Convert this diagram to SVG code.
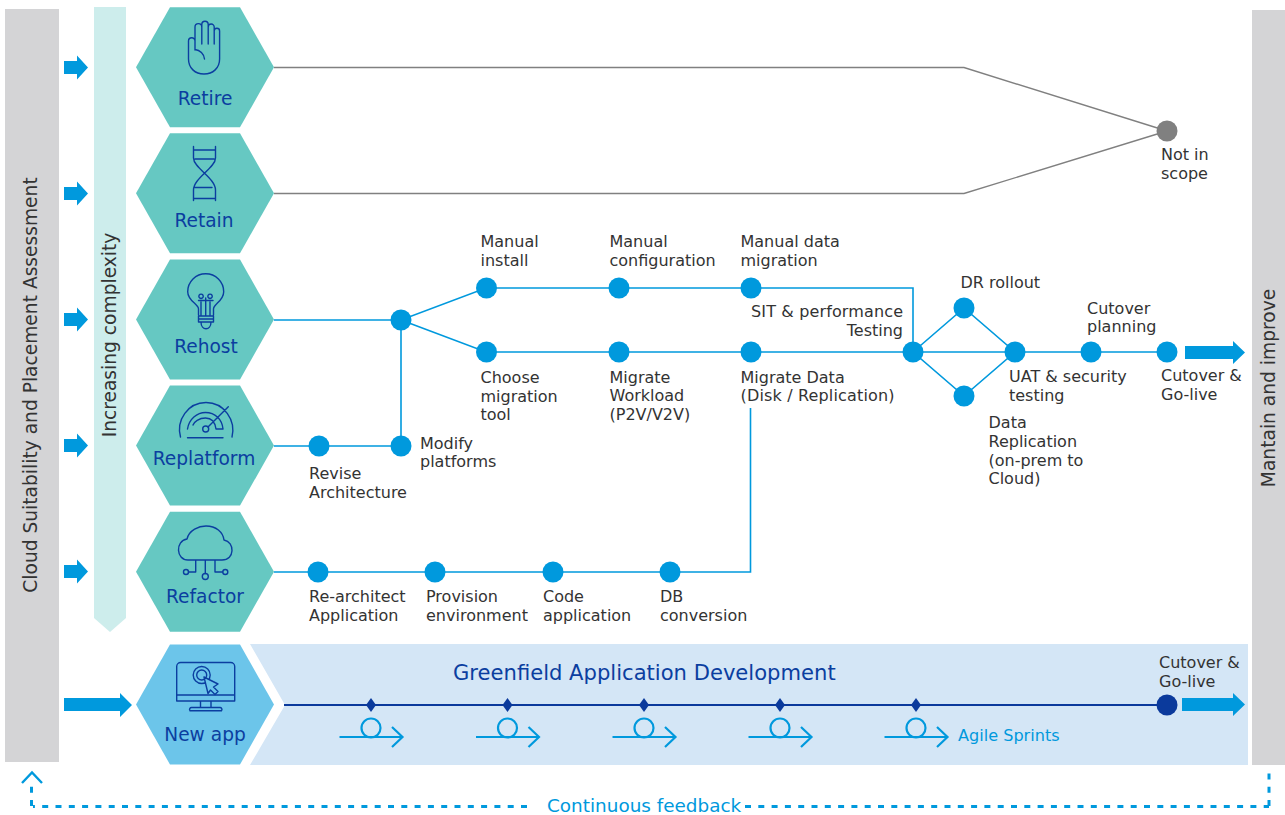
<svg xmlns="http://www.w3.org/2000/svg" width="1285" height="815" viewBox="0 0 1285 815">
<style>
text{font-family:"DejaVu Sans","Verdana",sans-serif}
.l{font-size:16px;fill:#333}
.h{font-size:18.600px;fill:#0B3EA0;text-anchor:middle}
.v{font-size:18.650px;fill:#333;text-anchor:middle}
.ic{fill:none;stroke:#0B3EA0;stroke-width:1.4;stroke-linecap:round;stroke-linejoin:round}
.hex{fill:#66C8C2}
.c{fill:none;stroke:#0099DD;stroke-width:1.6}
.g{fill:none;stroke:#808080;stroke-width:1.4}
.n{fill:#0099DD}
.ar{fill:#0099DD}
.loop{fill:none;stroke:#0099DD;stroke-width:2.200}
.d{fill:#0B3A9C}
.fb{fill:none;stroke:#0099DD;stroke-width:3;stroke-dasharray:6 7.3}
</style>
<defs>
<polygon id="hx" points="34,0 104,0 138,60 104,120 34,120 0,60"/>
<path id="sa" d="M64,-6.500H77V-12L88,0L77,12V6.500H64Z"/>
<g id="sprint"><path class="loop" d="M-31.500,32H31.500M21,22L31.500,32L21,42"/><circle class="loop" cx="0" cy="23" r="9.500"/><polygon class="d" points="0,-7 5,0 0,7 -5,0"/></g>
</defs>

<g id="left-bar"><rect x="5" y="9" width="54" height="753" fill="#D4D4D6"/><text class="v" transform="translate(37,385) rotate(-90)">Cloud Suitability and Placement Assessment</text></g>
<g id="right-bar"><rect x="1252" y="10" width="33" height="755" fill="#D4D4D6"/><text class="v" transform="translate(1275,388) rotate(-90)">Mantain and improve</text></g>
<g id="complexity"><polygon points="94,7 126,7 126,618 110,632 94,618" fill="#CDEDEC"/><text class="v" transform="translate(116,335) rotate(-90)">Increasing complexity</text></g>

<g id="input-arrows">
<use href="#sa" class="ar" y="67.500"/><use href="#sa" class="ar" y="193.500"/><use href="#sa" class="ar" y="319.500"/><use href="#sa" class="ar" y="445.500"/><use href="#sa" class="ar" y="571.500"/>
<path class="ar" d="M64,698H120V693L132,705L120,717V711H64Z"/>
</g>

<g id="greenfield-band"><polygon points="250,644 1248,644 1248,765 250,765 285,705" fill="#D4E6F6"/><text x="453" y="680" font-size="21.100" fill="#0B3EA0">Greenfield Application Development</text></g>

<g id="connectors">
<path class="g" d="M274,67.500H964L1167,131M274,193.500H964L1167,131"/>
<path class="c" d="M274,320H401L486,288H913V352M401,320L486,352H1167M401,320V446M274,446H401M274,572H750.500V408"/>
<path class="c" d="M913,352L964,308L1015,352L964,396Z"/>
<path d="M284,705H1167" fill="none" stroke="#0B3A9C" stroke-width="1.800"/>
</g>

<g id="retire"><use href="#hx" class="hex" x="136" y="7.300"/>
<path class="ic" d="M195,44V27a3.400,3.400 0 0 1 6.800,0M201.800,44V24.500a3.200,3.200 0 0 1 6.400,0V44M208.200,27a3,3 0 0 1 6,0V44M214.200,31a2.700,2.700 0 0 1 5.400,0V59C219.600,68 213,74 204,74C195,74 188.500,68 188.500,59V41a3.200,3.200 0 0 1 6.500,0V50M201.800,27V44M195,49.500C200,50 204,54 204.500,59"/>
<text class="h" x="205" y="105">Retire</text></g>

<g id="retain"><use href="#hx" class="hex" x="136" y="133.300"/>
<path class="ic" d="M193.500,146.500V158C193.500,168 215.500,178 215.500,190V200.500M215.500,146.500V158C215.500,168 193.500,178 193.500,190V200.500M193.500,150H215.500M195,159H214M195,187.500H212M193.500,198.500H215.500"/>
<text class="h" x="204" y="227">Retain</text></g>

<g id="rehost"><use href="#hx" class="hex" x="136" y="259.500"/>
<path class="ic" d="M198.500,315V309C198.500,304 187.700,301 187.700,291.700A18,18 0 1 1 223.700,291.700C223.700,301 213.500,304 213.500,309V315M198.500,316H213.500V322H198.500ZM201,322C201,331 211,331 211,322M198.500,319H213.500M201,315V302M210,315V302M205.700,315V298M201,298.500a2.200,2.200 0 1 1 .1,0M210,298.500a2.200,2.200 0 1 1 .1,0M198.500,300.500H213"/>
<text class="h" x="206" y="353">Rehost</text></g>

<g id="replatform"><use href="#hx" class="hex" x="136" y="385.600"/>
<path class="ic" d="M180.500,437C176,420 188,402.500 206,402.500C224,402.500 236,420 232,437M187.500,437.700H223M187.500,429C189,419 197,412.500 205.500,412.500C215,412.500 222,419 223,429H216C215,422 211,418 205.500,418C199,418 194,422 193,425M208,427L228.300,406.700"/>
<circle class="ic" cx="205.700" cy="429" r="3"/>
<text class="h" x="204" y="465">Replatform</text></g>

<g id="refactor"><use href="#hx" class="hex" x="136" y="511.700"/>
<path class="ic" d="M188,560C176,560 175,541 187,539C189,530 199,526 206,526C216,526 223,532 224,540C235,542 235,560 222,560ZM195.700,560V572H188.500M205.300,560V573.500M215,560V572H222.500"/>
<circle class="ic" cx="186" cy="572" r="2.500"/><circle class="ic" cx="205.300" cy="576.500" r="3"/><circle class="ic" cx="225.300" cy="572" r="2.500"/>
<text class="h" x="205" y="603">Refactor</text></g>

<g id="new-app"><use href="#hx" fill="#6CC5EA" x="136" y="644.500"/>
<path class="ic" d="M176.700,701V666.500a4,4 0 0 1 4,-4H230.700a4,4 0 0 1 4,4V701ZM176.700,695H234.700M200.500,701V707.500M211,701V707.500M192,707.500H219.500a2,2 0 0 1 2,3.200H190a2,2 0 0 1 2,-3.200Z"/>
<circle class="ic" cx="201.700" cy="675" r="8.500"/><circle class="ic" cx="201.700" cy="675" r="5"/>
<path class="ic" style="fill:#6CC5EA" d="M204,677L218,684L213.500,687L218,691.500L215,694.500L210.500,690L208,693.500Z"/>
<text class="h" x="205" y="741">New app</text></g>

<g id="sprints">
<use href="#sprint" x="371" y="705"/><use href="#sprint" x="507.500" y="705"/><use href="#sprint" x="644" y="705"/><use href="#sprint" x="780" y="705"/><use href="#sprint" x="916" y="705"/>
<text x="958" y="741" font-size="16.100" fill="#0099DD">Agile Sprints</text>
</g>

<g id="nodes">
<circle class="n" cx="401" cy="320" r="10.500"/><circle class="n" cx="486.500" cy="288" r="10.500"/><circle class="n" cx="619" cy="288" r="10.500"/><circle class="n" cx="751" cy="288" r="10.500"/>
<circle class="n" cx="486.500" cy="352" r="10.500"/><circle class="n" cx="619" cy="352" r="10.500"/><circle class="n" cx="751" cy="352" r="10.500"/><circle class="n" cx="913" cy="352" r="10.500"/>
<circle class="n" cx="964" cy="308" r="10.500"/><circle class="n" cx="964" cy="396" r="10.500"/><circle class="n" cx="1015" cy="352" r="10.500"/><circle class="n" cx="1091" cy="352" r="10.500"/><circle class="n" cx="1167" cy="352" r="10.500"/>
<circle class="n" cx="319" cy="446" r="10.500"/><circle class="n" cx="401" cy="446" r="10.500"/>
<circle class="n" cx="318" cy="572" r="10.500"/><circle class="n" cx="435" cy="572" r="10.500"/><circle class="n" cx="553" cy="572" r="10.500"/><circle class="n" cx="670" cy="572" r="10.500"/>
<circle cx="1167" cy="131" r="10.500" fill="#808080"/><circle cx="1167" cy="705" r="10.500" fill="#0B3A9C"/>
</g>

<g id="output-arrows">
<path class="ar" d="M1185,346H1233V341L1245,352.500L1233,364V359H1185Z"/>
<path class="ar" d="M1182,698H1233V693L1245,704.500L1233,716V711H1182Z"/>
</g>

<g id="labels">
<text class="l" x="1161" y="160">Not in</text><text class="l" x="1161" y="179">scope</text>
<text class="l" x="480.500" y="247">Manual</text><text class="l" x="480.500" y="266">install</text>
<text class="l" x="609.500" y="247">Manual</text><text class="l" x="609.500" y="266">configuration</text>
<text class="l" x="740.500" y="247">Manual data</text><text class="l" x="740.500" y="266">migration</text>
<text class="l" x="751" y="317" textLength="152">SIT &amp; performance</text><text class="l" x="903" y="336" text-anchor="end">Testing</text>
<text class="l" x="960.500" y="288">DR rollout</text>
<text class="l" x="1087" y="314">Cutover</text><text class="l" x="1087" y="332">planning</text>
<text class="l" x="1009" y="382">UAT &amp; security</text><text class="l" x="1009" y="401">testing</text>
<text class="l" x="1161" y="381">Cutover &amp;</text><text class="l" x="1161" y="400">Go-live</text>
<text class="l" x="480.500" y="383">Choose</text><text class="l" x="480.500" y="402">migration</text><text class="l" x="480.500" y="420">tool</text>
<text class="l" x="609.500" y="383">Migrate</text><text class="l" x="609.500" y="401">Workload</text><text class="l" x="609.500" y="420">(P2V/V2V)</text>
<text class="l" x="740.500" y="383">Migrate Data</text><text class="l" x="740.500" y="401" textLength="154">(Disk / Replication)</text>
<text class="l" x="988.500" y="428">Data</text><text class="l" x="988.500" y="447">Replication</text><text class="l" x="988.500" y="466">(on-prem to</text><text class="l" x="988.500" y="484">Cloud)</text>
<text class="l" x="420" y="449">Modify</text><text class="l" x="420" y="467">platforms</text>
<text class="l" x="309" y="479">Revise</text><text class="l" x="309" y="498">Architecture</text>
<text class="l" x="309" y="602">Re-architect</text><text class="l" x="309" y="621">Application</text>
<text class="l" x="426" y="602">Provision</text><text class="l" x="426" y="621">environment</text>
<text class="l" x="543" y="602">Code</text><text class="l" x="543" y="621">application</text>
<text class="l" x="660" y="602">DB</text><text class="l" x="660" y="621">conversion</text>
<text class="l" x="1159" y="668">Cutover &amp;</text><text class="l" x="1159" y="687">Go-live</text>
</g>

<g id="feedback">
<path class="fb" d="M527,806.500H33"/><path class="fb" d="M31.500,806V782"/><path d="M22,783L32,772.500L42,783" fill="none" stroke="#0099DD" stroke-width="2.400"/>
<path class="fb" d="M745,806.500H1269"/><path class="fb" d="M1269,806V772"/>
<text x="547" y="812" font-size="18.400" fill="#0099DD">Continuous feedback</text>
</g>
</svg>
